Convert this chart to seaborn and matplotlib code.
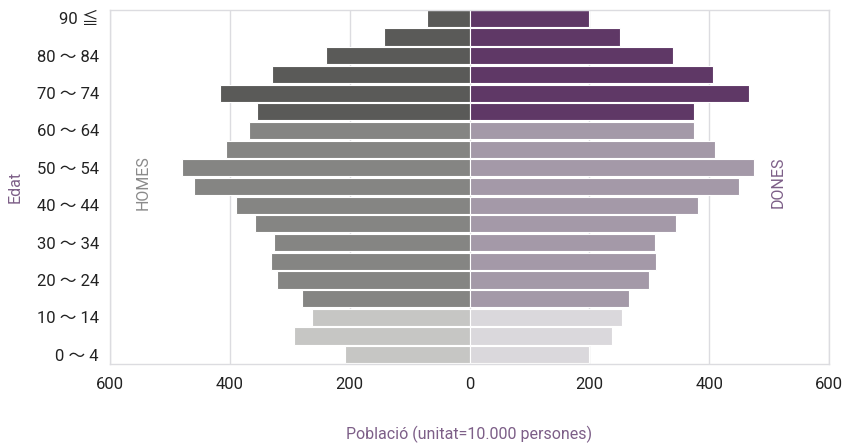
import matplotlib
matplotlib.use("Agg")
import matplotlib.pyplot as plt
import seaborn as sns
import pandas as pd

# age groups from top (90+) to bottom (0-4)
ages = ["90 ≦", "85 ～ 89", "80 ～ 84", "75 ～ 79", "70 ～ 74", "65 ～ 69", "60 ～ 64",
        "55 ～ 59", "50 ～ 54", "45 ～ 49", "40 ～ 44", "35 ～ 39", "30 ～ 34", "25 ～ 29",
        "20 ～ 24", "15 ～ 19", "10 ～ 14", "5 ～ 9", "0 ～ 4"]
men = [71, 143, 240, 330, 416, 354, 368, 407, 479, 460, 389, 358, 326, 332,
       322, 280, 263, 293, 207]
women = [200, 252, 339, 406, 467, 375, 375, 409, 474, 449, 381, 344, 309, 312,
         300, 266, 254, 237, 199]
# broad age band of each row
bands = ["old"] * 6 + ["mid"] * 10 + ["young"] * 3

palette = {
    "M_old": "#5a5a58", "M_mid": "#858583", "M_young": "#c6c6c4",
    "F_old": "#64306e", "F_mid": "#a597aa", "F_young": "#dad7dd",
}

rows = []
for a, m, w, b in zip(ages, men, women, bands):
    rows.append({"age": a, "value": -m, "grp": "M_" + b})
    rows.append({"age": a, "value": w, "grp": "F_" + b})
df = pd.DataFrame(rows)

sns.set_style("white")
plt.rcParams["font.family"] = ["Roboto", "Noto Sans CJK JP", "DejaVu Sans"]

fig = plt.figure(figsize=(8.49, 4.48), dpi=100)
ax = fig.add_axes([110 / 849, 84 / 448, 719 / 849, 354 / 448])

sns.barplot(data=df, x="value", y="age", hue="grp", palette=palette,
            order=ages, dodge=False, width=0.92, legend=False,
            edgecolor="white", linewidth=0.8, orient="h", ax=ax, zorder=2)

ax.set_xlim(-600, 600)
ax.set_ylim(18.5, -0.45)
xt = [-600, -400, -200, 0, 200, 400, 600]
ax.set_xticks(xt)
ax.set_xticklabels([str(abs(v)) for v in xt], fontsize=12, color="#222222")
ax.set_yticks(range(len(ages)))
ax.set_yticklabels([a if i % 2 == 0 else "" for i, a in enumerate(ages)],
                   fontsize=12, color="#222222")
ax.tick_params(axis="x", length=0, pad=9)
ax.tick_params(axis="y", length=0, pad=8)

ax.grid(axis="x", color="#dcdce0", linewidth=1, zorder=0)
ax.set_axisbelow(True)
for s in ax.spines.values():
    s.set_color("#dcdce0")
    s.set_linewidth(1)

purple = "#7d5f88"
ax.set_xlabel("Població (unitat=10.000 persones)", fontsize=11.5, color=purple,
              labelpad=25)
ax.set_ylabel("Edat", fontsize=11.5, color=purple, labelpad=10)

ax.text(-545, 8.8, "HOMES", rotation=90, ha="center", va="center",
        fontsize=11.5, color="#8a8a8a")
ax.text(515, 8.8, "DONES", rotation=90, ha="center", va="center",
        fontsize=11.5, color=purple)

fig.savefig("out.png", dpi=100)
